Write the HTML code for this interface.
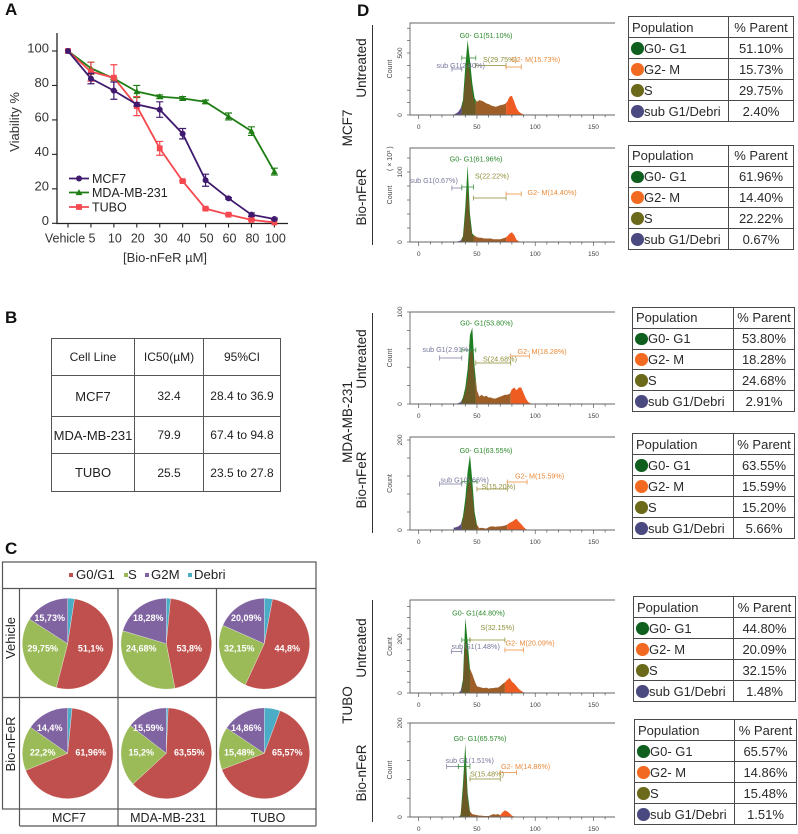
<!DOCTYPE html>
<html lang="en">
<head>
<meta charset="utf-8">
<title>Bio-nFeR viability and cell cycle figure</title>
<style>
html,body{margin:0;padding:0;background:#fff;}
#page{position:relative;width:798px;height:834px;overflow:hidden;background:#fff;font-family:"Liberation Sans",sans-serif;color:#222;filter:blur(0.35px);}
#art{position:absolute;left:0;top:0;}
svg text{font-family:"Liberation Sans",sans-serif;}
table.t{position:absolute;border-collapse:collapse;table-layout:fixed;font-size:13px;color:#2a2a2a;}
table.t td{border:1px solid #4a4a4a;padding:0;white-space:nowrap;}
table.t td:first-child{padding-left:3px;}
table.t td:last-child{text-align:center;}
table.t .r td:first-child{padding-left:15px;position:relative;}
table.t i{position:absolute;left:2px;top:50%;margin-top:-6px;width:12.5px;height:12.5px;border-radius:50%;}
.g{background:#0f5f1f;}.o{background:#f26a22;}.s{background:#6b6a1a;}.u{background:#4a4a80;}
table.b{position:absolute;left:51px;top:338px;width:229px;height:153px;border-collapse:collapse;table-layout:fixed;color:#222;}
table.b td{border:1px solid #555;text-align:center;padding:0;font-size:12px;white-space:nowrap;}
table.b td.n{font-size:13px;}
</style>
</head>
<body>
<div id="page">
<svg id="art" width="798" height="834" viewBox="0 0 798 834">
  <g fill="#111" font-weight="bold" font-size="17">
    <text x="5" y="15">A</text>
    <text x="5" y="323">B</text>
    <text x="5" y="554">C</text>
    <text x="357" y="16">D</text>
  </g>
  <g id="panelA">
    <text transform="translate(19,122) rotate(-90)" text-anchor="middle" font-size="13" fill="#333">Viability %</text>
    <text x="165" y="262" text-anchor="middle" font-size="13" fill="#333">[Bio-nFeR µM]</text>
    <text x="92" y="183" font-size="12.5" fill="#222">MCF7</text>
    <text x="92" y="197" font-size="12.5" fill="#222">MDA-MB-231</text>
    <text x="92" y="211.500" font-size="12.5" fill="#222">TUBO</text>
  </g>
  <g id="panelC">
    <g fill="none" stroke="#555" stroke-width="1.2">
      <rect x="2.500" y="562" width="313.500" height="247"/>
      <path d="M2.500 588.500H316M2.500 697.500H316M19.500 588.500V826M118 588.500V826M216.500 588.500V826M19.500 826H316M316 809V826"/>
    </g>
    <g font-size="13.2" fill="#222">
      <rect x="69" y="573" width="4" height="4" fill="#c0504d"/>
      <text x="76" y="579">G0/G1</text>
      <rect x="124" y="573" width="4" height="4" fill="#9bbb59"/>
      <text x="128" y="579">S</text>
      <rect x="145" y="573" width="4" height="4" fill="#8064a2"/>
      <text x="151" y="579">G2M</text>
      <rect x="188" y="573" width="4" height="4" fill="#4bacc6"/>
      <text x="194" y="579">Debri</text>
    </g>
    <g font-size="13" fill="#222" text-anchor="middle">
      <text transform="translate(15,638) rotate(-90)">Vehicle</text>
      <text transform="translate(15,744) rotate(-90)">Bio-nFeR</text>
    </g>
    <g font-size="12.5" fill="#222" text-anchor="middle">
      <text x="69" y="822">MCF7</text>
      <text x="168" y="822">MDA-MB-231</text>
      <text x="268" y="822">TUBO</text>
    </g>
  </g>
  <g id="panelD">
    <g font-size="13.500" fill="#222" text-anchor="middle">
      <text transform="translate(366,68) rotate(-90)">Untreated</text>
      <text transform="translate(366,197) rotate(-90)">Bio-nFeR</text>
      <text transform="translate(352,128) rotate(-90)">MCF7</text>
      <text transform="translate(366,359) rotate(-90)">Untreated</text>
      <text transform="translate(366,480) rotate(-90)">Bio-nFeR</text>
      <text transform="translate(352,422) rotate(-90)">MDA-MB-231</text>
      <text transform="translate(366,648) rotate(-90)">Untreated</text>
      <text transform="translate(366,773) rotate(-90)">Bio-nFeR</text>
      <text transform="translate(352,705) rotate(-90)">TUBO</text>
    </g>
    <path d="M372.500 25V245M372.500 313V533M372.500 600V822" stroke="#333" stroke-width="1" fill="none"/>
    <g id="histMarks"></g>
    <g font-size="7.200">
      <g fill="#2c8a2c" text-anchor="middle">
        <text x="486" y="38">G0- G1(51.10%)</text>
        <text x="476" y="161.500">G0- G1(61.96%)</text>
        <text x="486.500" y="325.500">G0- G1(53.80%)</text>
        <text x="486" y="453">G0- G1(63.55%)</text>
        <text x="478.500" y="615.500">G0- G1(44.80%)</text>
        <text x="480" y="741">G0- G1(65.57%)</text>
      </g>
      <g fill="#77779c">
        <text x="436.500" y="68">sub G1(2.40%)</text>
        <text x="409.500" y="183">sub G1(0.67%)</text>
        <text x="422.500" y="352">sub G1(2.91%)</text>
        <text x="440.500" y="482.500">sub G1(5.66%)</text>
        <text x="451.500" y="649">sub G1(1.48%)</text>
        <text x="445.500" y="763">sub G1(1.51%)</text>
      </g>
      <g fill="#8f8f3a">
        <text x="483" y="62">S(29.75%)</text>
        <text x="475" y="178.500">S(22.22%)</text>
        <text x="483" y="361.500">S(24.68%)</text>
        <text x="481.500" y="489">S(15.20%)</text>
        <text x="480.500" y="630">S(32.15%)</text>
        <text x="470" y="776.500">S(15.48%)</text>
      </g>
      <g fill="#ea8a3a">
        <text x="511" y="62">G2- M(15.73%)</text>
        <text x="527.500" y="195">G2- M(14.40%)</text>
        <text x="517.500" y="354">G2- M(18.28%)</text>
        <text x="515" y="478.500">G2- M(15.59%)</text>
        <text x="505.500" y="645.500">G2- M(20.09%)</text>
        <text x="501" y="769">G2- M(14.86%)</text>
      </g>
    </g>
  </g>
</svg>

<table class="b">
  <col style="width:83px"><col style="width:69px"><col style="width:77px">
  <tr style="height:37px"><td>Cell Line</td><td>IC50(µM)</td><td>95%CI</td></tr>
  <tr style="height:41px"><td class="n">MCF7</td><td>32.4</td><td>28.4 to 36.9</td></tr>
  <tr style="height:37px"><td class="n">MDA-MB-231</td><td>79.9</td><td>67.4 to 94.8</td></tr>
  <tr style="height:38px"><td class="n">TUBO</td><td>25.5</td><td>23.5 to 27.8</td></tr>
</table>

<table class="t" style="left:628px;top:16px;width:165px;height:106px">
  <col style="width:100px"><col style="width:65px">
  <tr><td>Population</td><td>% Parent</td></tr>
  <tr class="r"><td><i class="g"></i>G0- G1</td><td>51.10%</td></tr>
  <tr class="r"><td><i class="o"></i>G2- M</td><td>15.73%</td></tr>
  <tr class="r"><td><i class="s"></i>S</td><td>29.75%</td></tr>
  <tr class="r"><td><i class="u"></i>sub G1/Debri</td><td>2.40%</td></tr>
</table>
<table class="t" style="left:628px;top:145px;width:165px;height:105px">
  <col style="width:100px"><col style="width:65px">
  <tr><td>Population</td><td>% Parent</td></tr>
  <tr class="r"><td><i class="g"></i>G0- G1</td><td>61.96%</td></tr>
  <tr class="r"><td><i class="o"></i>G2- M</td><td>14.40%</td></tr>
  <tr class="r"><td><i class="s"></i>S</td><td>22.22%</td></tr>
  <tr class="r"><td><i class="u"></i>sub G1/Debri</td><td>0.67%</td></tr>
</table>
<table class="t" style="left:632px;top:307px;width:162px;height:105px">
  <col style="width:101px"><col style="width:61px">
  <tr><td>Population</td><td>% Parent</td></tr>
  <tr class="r"><td><i class="g"></i>G0- G1</td><td>53.80%</td></tr>
  <tr class="r"><td><i class="o"></i>G2- M</td><td>18.28%</td></tr>
  <tr class="r"><td><i class="s"></i>S</td><td>24.68%</td></tr>
  <tr class="r"><td><i class="u"></i>sub G1/Debri</td><td>2.91%</td></tr>
</table>
<table class="t" style="left:632px;top:433px;width:162px;height:106px">
  <col style="width:101px"><col style="width:61px">
  <tr><td>Population</td><td>% Parent</td></tr>
  <tr class="r"><td><i class="g"></i>G0- G1</td><td>63.55%</td></tr>
  <tr class="r"><td><i class="o"></i>G2- M</td><td>15.59%</td></tr>
  <tr class="r"><td><i class="s"></i>S</td><td>15.20%</td></tr>
  <tr class="r"><td><i class="u"></i>sub G1/Debri</td><td>5.66%</td></tr>
</table>
<table class="t" style="left:633px;top:596px;width:162px;height:106px">
  <col style="width:100px"><col style="width:62px">
  <tr><td>Population</td><td>% Parent</td></tr>
  <tr class="r"><td><i class="g"></i>G0- G1</td><td>44.80%</td></tr>
  <tr class="r"><td><i class="o"></i>G2- M</td><td>20.09%</td></tr>
  <tr class="r"><td><i class="s"></i>S</td><td>32.15%</td></tr>
  <tr class="r"><td><i class="u"></i>sub G1/Debri</td><td>1.48%</td></tr>
</table>
<table class="t" style="left:634px;top:719px;width:162px;height:106px">
  <col style="width:100px"><col style="width:62px">
  <tr><td>Population</td><td>% Parent</td></tr>
  <tr class="r"><td><i class="g"></i>G0- G1</td><td>65.57%</td></tr>
  <tr class="r"><td><i class="o"></i>G2- M</td><td>14.86%</td></tr>
  <tr class="r"><td><i class="s"></i>S</td><td>15.48%</td></tr>
  <tr class="r"><td><i class="u"></i>sub G1/Debri</td><td>1.51%</td></tr>
</table>
</div>

<script>
/* Panel A data */
const doseLabels = ['Vehicle','5','10','20','30','40','50','60','80','100'];
const viabilityTicks = [0,20,40,60,80,100];
const mcf7Values = [100,84,77,69,66,52,25,14.5,5,2.5];
const mcf7Errors = [0,3,5,1,4.5,3,3.5,0.5,1,0.5];
const mdaValues = [100,90,84,76.5,73.5,72.5,70.5,62,53.5,30];
const mdaErrors = [0,3.5,0.5,3.5,1,1,1,2,2.5,2];
const tuboValues = [100,88,84.5,68,43.5,24.5,8.5,5,2,0.5];
const tuboErrors = [0,5.5,7.5,5.5,4,0.5,0.5,0.5,0.5,0];

/* Panel C data: slice sizes as drawn (Debri, G0/G1, S, G2M) */
const pieMcf7Vehicle = [2.4,51.1,29.75,15.73];
const pieMdaVehicle = [1.48,44.8,32.15,20.09];
const pieTuboVehicle = [2.91,53.8,24.68,18.28];
const pieMcf7Bio = [1.51,65.57,15.48,14.86];
const pieMdaBio = [0.67,61.96,22.2,14.4];
const pieTuboBio = [5.66,63.55,15.2,15.59];
/* printed slice labels */
const pieLabelsMcf7Vehicle = ['','51,1%','29,75%','15,73%'];
const pieLabelsMdaVehicle = ['','53,8%','24,68%','18,28%'];
const pieLabelsTuboVehicle = ['','44,8%','32,15%','20,09%'];
const pieLabelsMcf7Bio = ['','61,96%','22,2%','14,4%'];
const pieLabelsMdaBio = ['','63,55%','15,2%','15,59%'];
const pieLabelsTuboBio = ['','65,57%','15,48%','14,86%'];

/* Panel D data: histogram counts per channel */
const channels = [30,32,34,36,38,40,42,44,46,48,50,52,54,56,58,60,62,64,66,68,70,72,74,76,78,80,82,84,86,88,90,92,94,96];
const histMcf7Untreated = [4,12,25,54,120,390,605,443,255,135,107,120,115,107,94,89,78,72,67,72,80,83,89,107,148,155,107,54,27,13,5,0,0,0];
const histMcf7Bio = [0,0,1,2,8,50,110,40,12,9,7,6,6,5,5,5,5,4,4,4,4,5,6,8,12,14,10,3,1,0,0,0,0,0];
const histMdaUntreated = [0,0,1,2,7,18,38,75,83,40,15,8,10,8,9,7,7,6,6,7,8,9,10,10,11,16,18,15,18,18,12,6,2,1];
const histMdaBio = [5,6,8,12,30,70,130,167,110,40,12,4,5,4,3,6,8,8,7,8,8,9,10,12,16,18,22,25,18,13,7,2,0,0];
const histTuboUntreated = [0,0,0,8,50,278,190,90,70,45,25,22,20,18,20,16,18,18,20,20,26,34,40,48,56,42,35,25,15,8,3,0,0,0];
const histTuboBio = [0,0,0,4,70,156,50,12,6,5,4,3,3,2,2,2,4,6,5,6,4,10,14,12,8,3,1,0,0,0,0,0,0,0];
const channelTicks = [0,50,100,150];

const NS = 'http://www.w3.org/2000/svg';
function mk(tag, attrs, parent, name) {
  const e = document.createElementNS(NS, tag);
  for (const k in attrs) e.setAttribute(k, attrs[k]);
  
  
  parent.appendChild(e);
  return e;
}

/* ---------- Panel A ---------- */
const panelA = document.getElementById('panelA');
const yA = v => 223.3 - v * 1.723;
const xA = i => 68 + i * 22.93;
mk('path', {d:'M57 33V223.500H288', fill:'none', stroke:'#222', 'stroke-width':1.3}, panelA, 'viability-axes');
viabilityTicks.forEach(t => {
  mk('line', {x1:52, x2:57, y1:yA(t), y2:yA(t), stroke:'#222', 'stroke-width':1.1}, panelA, 'y-tick');
  const l = mk('text', {x:49, y:yA(t)+1.5, 'text-anchor':'end', 'font-size':13, fill:'#333'}, panelA, 'y-tick-label');
  l.textContent = t;
});
doseLabels.forEach((d,i) => {
  mk('line', {x1:xA(i), x2:xA(i), y1:223.5, y2:227.5, stroke:'#222', 'stroke-width':1.1}, panelA, 'x-tick');
  const l = mk('text', {x:i===0 ? 65 : xA(i)+1, y:242.5, 'text-anchor':'middle', 'font-size':12.5, fill:'#333'}, panelA, 'x-tick-label');
  l.textContent = d;
});
function marker(kind, x, y, color, parent) {
  if (kind === 'circle') mk('circle', {cx:x, cy:y, r:3, fill:color}, parent, 'point-circle');
  if (kind === 'tri') mk('path', {d:`M${x} ${y-3.4}L${x+3.4} ${y+2.6}H${x-3.4}Z`, fill:color}, parent, 'point-triangle');
  if (kind === 'square') mk('rect', {x:x-2.9, y:y-2.9, width:5.8, height:5.8, fill:color}, parent, 'point-square');
}
function series(values, errors, color, kind, name) {
  const g = mk('g', {}, panelA, name);
  mk('polyline', {points:values.map((v,i)=>xA(i)+','+yA(v)).join(' '), fill:'none', stroke:color, 'stroke-width':1.8}, g, name+'-line');
  values.forEach((v,i) => {
    if (errors[i] > 0) {
      const x = xA(i), t = yA(v+errors[i]), b = yA(v-errors[i]);
      mk('path', {d:`M${x} ${t}V${b}M${x-3.5} ${t}H${x+3.5}M${x-3.5} ${b}H${x+3.5}`, fill:'none', stroke:color, 'stroke-width':1.2}, g, name+'-error-bar');
    }
    marker(kind, xA(i), yA(v), color, g);
  });
}
series(mdaValues, mdaErrors, '#1e7d14', 'tri', 'series-mda-mb-231');
series(tuboValues, tuboErrors, '#f5484f', 'square', 'series-tubo');
series(mcf7Values, mcf7Errors, '#3f1a6e', 'circle', 'series-mcf7');
mk('line', {x1:69, x2:89, y1:178.500, y2:178.500, stroke:'#3f1a6e', 'stroke-width':1.7}, panelA, 'legend-line-mcf7');
marker('circle', 79, 178.500, '#3f1a6e', panelA);
mk('line', {x1:69, x2:89, y1:192.500, y2:192.500, stroke:'#1e7d14', 'stroke-width':1.7}, panelA, 'legend-line-mda-mb-231');
marker('tri', 79, 192.500, '#1e7d14', panelA);
mk('line', {x1:69, x2:89, y1:207, y2:207, stroke:'#f5484f', 'stroke-width':1.7}, panelA, 'legend-line-tubo');
marker('square', 79, 207, '#f5484f', panelA);

/* ---------- Panel C ---------- */
const panelC = document.getElementById('panelC');
const pieColors = ['#4bacc6','#c0504d','#9bbb59','#8064a2'];
function pie(cx, cy, midShift, values, labels, name) {
  const g = mk('g', {}, panelC, name);
  const r = 45.4;
  const total = values.reduce((a,b)=>a+b,0);
  let acc = 0;
  values.forEach((v,i) => {
    const a0 = acc/total*2*Math.PI; acc += v;
    const a1 = acc/total*2*Math.PI;
    const large = a1-a0 > Math.PI ? 1 : 0;
    mk('path', {d:`M${cx} ${cy}L${cx+r*Math.sin(a0)} ${cy-r*Math.cos(a0)}A${r} ${r} 0 ${large} 1 ${cx+r*Math.sin(a1)} ${cy-r*Math.cos(a1)}Z`, fill:pieColors[i], stroke:'#fff', 'stroke-width':0.3}, g, name+'-slice');
  });
  const lx = [0, cx+23, cx-25, cx-18];
  const ly = [0, cy+midShift, cy+midShift, cy-25.5];
  labels.forEach((txt,i) => {
    if (!txt) return;
    const t = mk('text', {x:lx[i], y:ly[i]+3, 'text-anchor':'middle', 'font-size':9, 'font-weight':'bold', fill:'#fff'}, g, name+'-label');
    t.textContent = txt;
  });
}
pie(67.700,643.700,5,pieMcf7Vehicle,pieLabelsMcf7Vehicle,'pie-mcf7-vehicle');
pie(166.300,643.700,5,pieMdaVehicle,pieLabelsMdaVehicle,'pie-mda-vehicle');
pie(264.300,643.700,5,pieTuboVehicle,pieLabelsTuboVehicle,'pie-tubo-vehicle');
pie(67.700,753.300,-1,pieMcf7Bio,pieLabelsMcf7Bio,'pie-mcf7-bio-nfer');
pie(166.300,753.300,-1,pieMdaBio,pieLabelsMdaBio,'pie-mda-bio-nfer');
pie(264.300,753.300,-1,pieTuboBio,pieLabelsTuboBio,'pie-tubo-bio-nfer');

/* ---------- Panel D ---------- */
const histRoot = document.getElementById('histMarks');
const xD = c => 418.7 + c * 1.165;
let clipN = 0;
function histogram(cfg) {
  const g = mk('g', {}, histRoot, cfg.name);
  const yD = v => cfg.bottom - v * cfg.scale;
  const pts = f => 'M'+xD(channels[0])+' '+cfg.bottom+channels.map((c,i)=>'L'+xD(c)+' '+yD(cfg.counts[i]*f)).join('')+'L'+xD(channels[channels.length-1])+' '+cfg.bottom+'Z';
  const region = (from,to,color,f,nm) => {
    const id = 'clip'+(clipN++);
    const cp = mk('clipPath', {id:id}, g, 'gate-clip');
    mk('rect', {x:xD(from), y:cfg.top-5, width:xD(to)-xD(from), height:cfg.bottom-cfg.top+5}, cp, 'gate-clip-rect');
    mk('path', {d:pts(f), fill:color, 'clip-path':`url(#${id})`}, g, nm);
  };
  region(0,cfg.sub,'#5c4a84',1,'histogram-sub-g1-area');
  region(cfg.sub,cfg.g0,'#1f7d22',1,'histogram-g0-g1-area');
  region(cfg.sub,cfg.g0,'#6c5a26',0.72,'histogram-g0-g1-overlap');
  region(cfg.g0,cfg.s,'#9e5e28',1,'histogram-s-area');
  region(cfg.s,120,'#ef5c22',1,'histogram-g2-m-area');
  /* axes */
  mk('path', {d:`M615 ${cfg.top}H410V${cfg.bottom}H615`, fill:'none', stroke:'#666', 'stroke-width':0.9}, g, 'histogram-frame');
  for (let c = 0; c <= 160; c += 10) {
    const major = channelTicks.includes(c);
    mk('line', {x1:xD(c), x2:xD(c), y1:cfg.bottom, y2:cfg.bottom+(major?4:2.5), stroke:'#555', 'stroke-width':0.7}, g, 'histogram-x-tick');
  }
  channelTicks.forEach(c => {
    const t = mk('text', {x:xD(c), y:cfg.bottom+14, 'text-anchor':'middle', 'font-size':6.6, fill:'#444'}, g, 'histogram-x-label');
    t.textContent = c;
  });
  for (let v = 0; yD(v) >= cfg.top; v += cfg.minor) {
    mk('line', {x1:407, x2:410, y1:yD(v), y2:yD(v), stroke:'#555', 'stroke-width':0.7}, g, 'histogram-y-tick');
  }
  [0, cfg.label].forEach(v => {
    const t = mk('text', {transform:`translate(402,${yD(v)}) rotate(-90)`, 'text-anchor':'middle', 'font-size':6.6, fill:'#444'}, g, 'histogram-y-label');
    t.textContent = v;
  });
  const cnt = mk('text', {transform:`translate(392,${(cfg.top+cfg.bottom)/2}) rotate(-90)`, 'text-anchor':'middle', 'font-size':7, fill:'#444'}, g, 'histogram-y-title');
  cnt.textContent = 'Count';
  cfg.gates.forEach(b => {
    const x1 = xD(b[0]), x2 = xD(b[1]), y = b[2];
    mk('path', {d:`M${x1} ${y-2.5}V${y+2.5}M${x1} ${y}H${x2}M${x2} ${y-2.5}V${y+2.5}`, fill:'none', stroke:b[3], 'stroke-width':0.7}, g, 'histogram-gate');
  });
}
const cG = '#2c8a2c', cU = '#77779c', cS = '#8a8a30', cO = '#ea8a3a';
histogram({name:'histogram-mcf7-untreated',counts:histMcf7Untreated,top:23,bottom:115,scale:0.124,minor:100,label:500,sub:37,g0:49,s:75,
  gates:[[28.5,37,69,cU],[37,49,58,cG],[49,75,65.5,cS],[75,88,67,cO]]});
histogram({name:'histogram-mcf7-bio-nfer',counts:histMcf7Bio,top:148,bottom:242,scale:0.7,minor:20,label:100,sub:37,g0:47,s:75,
  gates:[[28.5,37,188,cU],[37,47,187,cG],[47,75,198,cS],[75,88,194,cO]]});
histogram({name:'histogram-mda-untreated',counts:histMdaUntreated,top:312,bottom:404,scale:0.92,minor:20,label:100,sub:37,g0:49,s:79,
  gates:[[18,37,358,cU],[37,49,350,cG],[49,79,363,cS],[79,95,356,cO]]});
histogram({name:'histogram-mda-bio-nfer',counts:histMdaBio,top:437,bottom:530,scale:0.45,minor:40,label:200,sub:37,g0:50,s:76,
  gates:[[18,37,484,cU],[37,50,481.5,cG],[50,76,489,cS],[76,93,482,cO]]});
histogram({name:'histogram-tubo-untreated',counts:histTuboUntreated,top:600,bottom:693,scale:0.27,minor:40,label:200,sub:37,g0:44,s:74,
  gates:[[28,37,651.5,cU],[37,44,640,cG],[44,74,640,cS],[74,90,650,cO]]});
histogram({name:'histogram-tubo-bio-nfer',counts:histTuboBio,top:723,bottom:817,scale:0.47,minor:40,label:200,sub:34,g0:44,s:70,
  gates:[[24,34,766.5,cU],[34,44,766.5,cG],[44,70,779,cS],[70,84,772.5,cO]]});
const exp = mk('text', {transform:'translate(392,171) rotate(-90)', 'font-size':7, fill:'#444'}, histRoot, 'histogram-y-exponent');
exp.textContent = '( × 10³ )';
</script>
</body>
</html>
